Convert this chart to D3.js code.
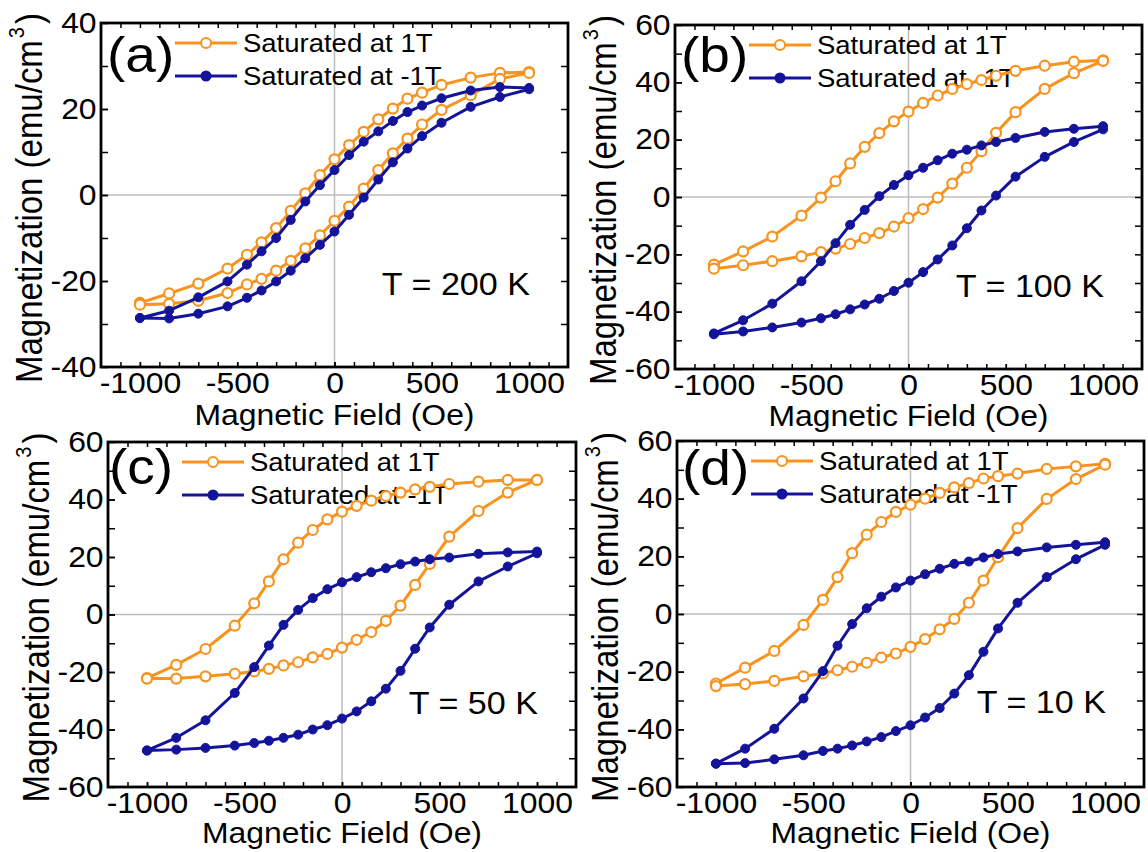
<!DOCTYPE html>
<html lang="en">
<head>
<meta charset="utf-8">
<title>M-H loops</title>
<style>
body{margin:0;background:#fff;}
svg text{font-family:"Liberation Sans",Arial,sans-serif;fill:#000;}
</style>
</head>
<body>
<script src="https://cdn.jsdelivr.net/npm/d3@7"></script>
<script>

// field points (Oe), same for every branch
var field = [-1000,-850,-700,-550,-450,-375,-300,-225,-150,-75,0,75,150,225,300,375,450,550,700,850,1000];

// (a) T = 200 K
var a1Upper = [-25.1,-22.9,-20.6,-17.1,-13.9,-11.0,-7.7,-3.7,0.4,4.6,8.3,11.6,14.7,17.6,20.1,22.4,23.8,25.6,27.3,28.4,28.6];
var a1Lower = [-25.5,-25.3,-24.6,-22.8,-20.8,-19.5,-17.6,-15.3,-12.4,-9.4,-6.0,-2.7,1.5,5.8,9.7,13.1,16.4,19.8,23.2,27.0,28.4];
var aN1Upper = [-28.6,-26.9,-23.8,-20.1,-16.2,-13.1,-10.0,-5.8,-1.5,2.3,5.8,9.3,12.4,14.8,17.2,19.3,20.8,22.5,24.3,25.1,24.9];
var aN1Lower = [-28.6,-28.7,-27.6,-25.9,-23.9,-22.2,-20.1,-17.6,-14.7,-11.6,-8.5,-4.6,-0.6,3.6,7.6,10.8,13.7,16.8,20.5,22.8,24.6];

// (b) T = 100 K
var b1Upper = [-23.6,-19.0,-13.8,-6.5,-0.2,5.5,11.7,17.5,22.3,26.4,29.8,32.8,35.4,37.7,39.4,40.8,42.3,44.0,45.8,47.2,47.7];
var b1Lower = [-25.0,-23.8,-22.4,-20.7,-19.2,-18.0,-16.4,-14.3,-12.6,-10.3,-7.4,-4.2,-0.2,4.7,10.2,16.0,22.4,29.6,37.7,43.2,47.5];
var bN1Upper = [-47.6,-43.0,-37.2,-29.4,-22.4,-16.1,-9.7,-4.5,0.3,4.2,7.6,10.2,12.8,15.1,16.5,18.0,19.2,20.6,22.7,23.8,24.7];
var bN1Lower = [-47.9,-46.9,-45.5,-43.8,-42.3,-40.9,-39.2,-37.5,-35.5,-32.8,-29.9,-26.2,-21.8,-16.9,-10.9,-4.7,0.5,7.1,14.0,19.2,23.6];

// (c) T = 50 K
var c1Upper = [-22.1,-17.5,-12.0,-3.9,3.9,11.5,19.2,25.0,29.4,33.1,35.8,37.8,39.6,41.2,42.4,43.5,44.4,45.4,46.2,46.8,46.8];
var c1Lower = [-22.3,-22.3,-21.5,-20.6,-19.8,-18.9,-17.7,-16.6,-14.9,-13.7,-11.5,-8.8,-6.1,-2.2,3.1,10.3,17.6,27.1,36.0,42.4,46.8];
var cN1Upper = [-47.3,-42.9,-36.8,-27.3,-18.3,-10.8,-3.6,1.6,5.7,8.8,11.2,13.0,14.7,16.1,17.5,18.4,19.2,19.8,21.1,21.6,21.9];
var cN1Lower = [-47.3,-47.0,-46.4,-45.6,-44.7,-43.9,-42.9,-41.8,-40.0,-38.5,-36.2,-33.7,-30.2,-25.8,-19.6,-11.9,-4.5,3.4,11.5,16.7,21.3];

// (d) T = 10 K
var d1Upper = [-24.1,-18.6,-12.8,-3.8,4.9,12.8,21.1,27.5,31.9,35.4,37.9,40.0,42.0,43.9,45.4,47.0,47.8,48.7,50.3,51.2,52.1];
var d1Lower = [-25.0,-24.3,-23.2,-21.6,-20.6,-19.5,-18.3,-16.9,-15.1,-13.7,-11.4,-8.7,-5.3,-1.7,3.9,11.6,19.7,29.8,39.9,46.8,51.8];
var dN1Upper = [-51.9,-46.7,-39.8,-29.3,-19.8,-11.0,-3.5,2.0,6.0,9.2,11.6,13.8,15.7,17.4,18.2,19.6,20.8,21.7,23.1,24.0,24.9];
var dN1Lower = [-51.9,-51.7,-50.4,-49.0,-47.5,-46.7,-45.6,-44.2,-42.7,-40.6,-38.6,-35.9,-32.6,-27.6,-21.2,-13.1,-5.0,3.9,12.8,19.0,24.0];

var panelLabels = ["(a)","(b)","(c)","(d)"];
var tempLabels = ["T = 200 K","T = 100 K","T = 50 K","T = 10 K"];
var yLimits = [40,60,60,60];
var xTicks = [-1000,-500,0,500,1000];
var legendLabels = ["Saturated at 1T","Saturated at -1T"];

var series = [
  [a1Upper,a1Lower,aN1Upper,aN1Lower],
  [b1Upper,b1Lower,bN1Upper,bN1Lower],
  [c1Upper,c1Lower,cN1Upper,cN1Lower],
  [d1Upper,d1Lower,dN1Upper,dN1Lower]
];

var orange = "#f7931e";
var blue = "#14149a";
var stretch = "scale(1.1,1)";

var w = 1148, h = 852;

var svg = d3.select("body").append("svg")
.attr("width",w)
.attr("height",h);

// frame boxes of the four panels (left, top, right, bottom) + a few label offsets
var boxes = [
  {l:101,t:23,r:568,b:367,labX:6,labY:49,titleY:58},
  {l:675,t:25,r:1142,b:369,labX:6,labY:47,titleY:57},
  {l:108,t:442,r:576,b:787,labX:1,labY:42,titleY:56},
  {l:677,t:441,r:1144,b:787,labX:5,labY:44,titleY:56}
];

boxes.forEach(function(bx,p){
  var ym = yLimits[p];
  var x = d3.scaleLinear().domain([-1200,1200]).range([bx.l,bx.r]);
  var y = d3.scaleLinear().domain([-ym,ym]).range([bx.b,bx.t]);
  var g = svg.append("g");

  // zero lines
  g.append("line").attr("x1",x(0)).attr("x2",x(0)).attr("y1",bx.t).attr("y2",bx.b)
   .attr("stroke","#bdbdbd").attr("stroke-width",1.5);
  g.append("line").attr("x1",bx.l).attr("x2",bx.r).attr("y1",y(0)).attr("y2",y(0))
   .attr("stroke","#bdbdbd").attr("stroke-width",1.5);

  // legend
  var lg = g.append("g");
  [0,1].forEach(function(k){
    var ly = bx.t + 20 + k*33;
    var col = k==0 ? orange : blue;
    lg.append("line").attr("x1",bx.l+74).attr("x2",bx.l+136).attr("y1",ly).attr("y2",ly)
      .attr("stroke",col).attr("stroke-width",3);
    lg.append("circle").attr("cx",bx.l+105).attr("cy",ly).attr("r",k==0?5:4.5)
      .attr("fill",k==0?"#fff":blue).attr("stroke",col).attr("stroke-width",2);
    lg.append("text").attr("transform","translate("+(bx.l+142)+","+(ly+9)+") "+stretch)
      .attr("font-size",25).text(legendLabels[k]);
  });

  // loops
  var line = d3.line().x(function(d){return x(d[0]);}).y(function(d){return y(d[1]);});
  var s = series[p];
  [[s[0],s[1],orange,true],[s[2],s[3],blue,false]].forEach(function(c){
    var down = field.map(function(f,i){return [f,c[0][i]];}).reverse();
    var up = field.map(function(f,i){return [f,c[1][i]];});
    var pts = down.concat(up);
    g.append("path").attr("d",line(pts)).attr("fill","none")
     .attr("stroke",c[2]).attr("stroke-width",3).attr("stroke-linejoin","round");
    g.selectAll(null).data(pts).enter().append("circle")
     .attr("cx",function(d){return x(d[0]);})
     .attr("cy",function(d){return y(d[1]);})
     .attr("r",c[3]?5:4.5)
     .attr("fill",c[3]?"#fff":c[2])
     .attr("stroke",c[2]).attr("stroke-width",c[3]?2.2:1);
  });

  // frame
  g.append("rect").attr("x",bx.l).attr("y",bx.t).attr("width",bx.r-bx.l).attr("height",bx.b-bx.t)
   .attr("fill","none").attr("stroke","#000").attr("stroke-width",2.8);

  // ticks, all pointing inward, mirrored on top and right
  var xMinor = d3.range(-1100,1101,100);
  var yMinor = d3.range(-ym+10,ym,10);
  var yMajor = d3.range(-ym,ym+1,20);

  function clean(sel){ sel.select(".domain").remove(); sel.selectAll("line").attr("stroke","#000").attr("stroke-width",1.5); }

  g.append("g").attr("transform","translate(0,"+bx.b+")")
   .call(d3.axisBottom(x).tickValues(xMinor).tickSize(-5).tickFormat("")).call(clean);
  g.append("g").attr("transform","translate(0,"+bx.t+")")
   .call(d3.axisTop(x).tickValues(xMinor).tickSize(-5).tickFormat("")).call(clean);
  g.append("g").attr("transform","translate("+bx.l+",0)")
   .call(d3.axisLeft(y).tickValues(yMinor).tickSize(-7).tickFormat("")).call(clean);
  g.append("g").attr("transform","translate("+bx.r+",0)")
   .call(d3.axisRight(y).tickValues(yMinor).tickSize(-7).tickFormat("")).call(clean);

  var xb = g.append("g").attr("transform","translate(0,"+bx.b+")")
   .call(d3.axisBottom(x).tickValues(xTicks).tickSizeInner(-5).tickSizeOuter(0).tickPadding(5)
     .tickFormat(function(d){return String(d);}))
   .call(clean);
  xb.selectAll("text").attr("font-size",29).attr("fill","#000").attr("transform",stretch);
  xb.attr("font-family",null).attr("font-size",null);

  var yl = g.append("g").attr("transform","translate("+bx.l+",0)")
   .call(d3.axisLeft(y).tickValues(yMajor).tickSizeInner(-7).tickSizeOuter(0).tickPadding(4)
     .tickFormat(function(d){return String(d);}))
   .call(clean);
  yl.selectAll("text").attr("font-size",29).attr("fill","#000").attr("transform",stretch);
  yl.attr("font-family",null).attr("font-size",null);

  // axis titles
  g.append("text").attr("transform","translate("+((bx.l+bx.r)/2)+","+(bx.b+bx.titleY)+") "+stretch)
   .attr("text-anchor","middle").attr("font-size",29).text("Magnetic Field (Oe)");

  var yt = g.append("text")
   .attr("transform","translate("+(bx.l-59)+","+((bx.t+bx.b)/2+3)+") "+stretch+" rotate(-90)")
   .attr("text-anchor","middle").attr("font-size",33);
  yt.append("tspan").text("Magnetization (emu/cm");
  yt.append("tspan").attr("font-size",20).attr("dy",-16).attr("dx",2).text("3");
  yt.append("tspan").attr("dy",16).attr("dx",3).text(")");

  // panel tag and temperature
  g.append("text").attr("transform","translate("+(bx.l+bx.labX)+","+(bx.t+bx.labY)+") "+stretch)
   .attr("font-size",50).text(panelLabels[p]);
  g.append("text").attr("transform","translate("+(bx.r-38)+","+(bx.t+272)+") "+stretch)
   .attr("text-anchor","end").attr("font-size",31).text(tempLabels[p]);
});

</script>
</body>
</html>
